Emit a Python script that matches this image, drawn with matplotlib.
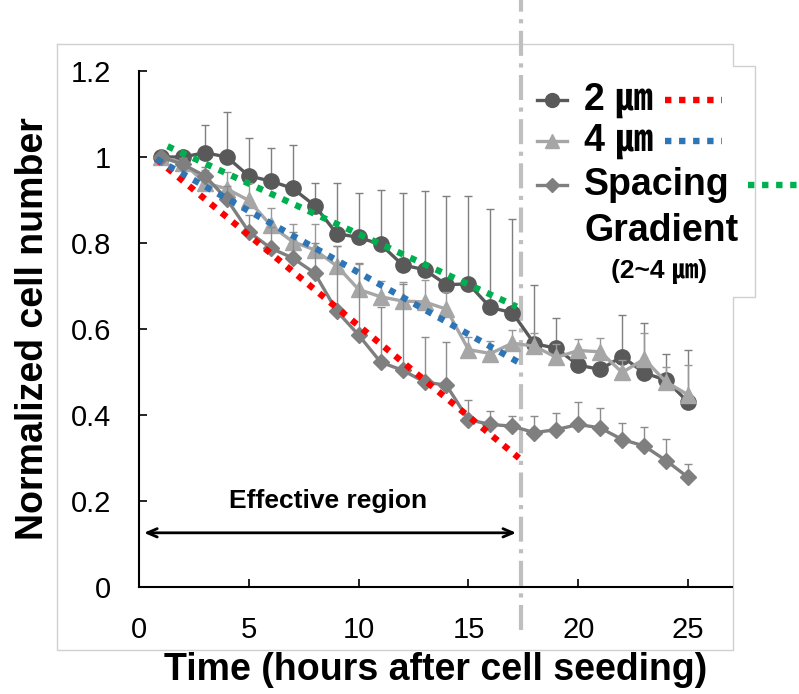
import numpy as np
import matplotlib
matplotlib.use('Agg')
import matplotlib.pyplot as plt
from matplotlib.lines import Line2D

plt.rcParams['font.family'] = ['Liberation Sans', 'Noto Sans CJK KR', 'DejaVu Sans']

# ---- data ----
hours = list(range(1, 26))

mean_2um = [1.0, 1.0, 1.01, 1.0, 0.956, 0.944, 0.927, 0.887, 0.822, 0.813, 0.797, 0.749, 0.738,
            0.703, 0.705, 0.65, 0.638, 0.566, 0.555, 0.516, 0.506, 0.536, 0.498, 0.481, 0.43]
err_2um = [0.0, 0.01, 0.065, 0.105, 0.089, 0.077, 0.102, 0.052, 0.117, 0.103, 0.127, 0.167, 0.182,
           0.206, 0.204, 0.23, 0.217, 0.136, 0.07, 0.015, 0.015, 0.097, 0.117, 0.06, 0.122]

mean_4um = [1.0, 0.987, 0.94, 0.926, 0.899, 0.841, 0.803, 0.784, 0.747, 0.692, 0.675, 0.665, 0.663,
            0.646, 0.552, 0.543, 0.567, 0.56, 0.534, 0.55, 0.547, 0.499, 0.53, 0.477, 0.447]
err_4um = [0.0, 0.01, 0.03, 0.04, 0.04, 0.04, 0.042, 0.061, 0.045, 0.059, 0.036, 0.045, 0.052,
           0.04, 0.03, 0.03, 0.03, 0.03, 0.03, 0.027, 0.031, 0.03, 0.06, 0.035, 0.07]

mean_grad = [1.0, 0.983, 0.956, 0.902, 0.826, 0.788, 0.765, 0.73, 0.642, 0.586, 0.523, 0.504, 0.477,
             0.469, 0.389, 0.378, 0.374, 0.359, 0.366, 0.378, 0.37, 0.343, 0.328, 0.294, 0.255]
err_grad = [0.0, 0.01, 0.02, 0.03, 0.04, 0.05, 0.06, 0.07, 0.15, 0.168, 0.127, 0.2, 0.105,
            0.1, 0.046, 0.032, 0.024, 0.038, 0.039, 0.053, 0.047, 0.039, 0.044, 0.051, 0.031]

# linear fits over the effective region (end points)
fit_x_2um = [0.8, 17.3]
fit_y_2um = [0.995, 0.30]
fit_x_4um = [0.8, 17.3]
fit_y_4um = [0.995, 0.522]
fit_x_grad = [1.3, 17.2]
fit_y_grad = [1.025, 0.652]

cutoff_hour = 17.4

W, H = 799, 694
fig = plt.figure(figsize=(W / 100, H / 100), dpi=100)


def fx(px):
    return px / W


def fy(py):
    return 1 - py / H


ax = fig.add_axes([fx(139), fy(587), (732 - 139) / W, (587 - 71) / H])

c_dark, c_light, c_mid = '#595959', '#A6A6A6', '#7F7F7F'
zeros = [0] * len(hours)

ax.errorbar(hours, mean_2um, yerr=[zeros, err_2um], color=c_dark, marker='o', ms=11, lw=2.4,
            ecolor='#7F7F7F', elinewidth=1, capsize=3, capthick=1, zorder=3)
ax.errorbar(hours, mean_4um, yerr=[zeros, err_4um], color=c_light, marker='^', ms=12, lw=2.4,
            ecolor='#999999', elinewidth=1, capsize=3, capthick=1, zorder=4)
ax.errorbar(hours, mean_grad, yerr=[zeros, err_grad], color=c_mid, marker='D', ms=8, lw=2.4,
            ecolor='#8C8C8C', elinewidth=1, capsize=3, capthick=1, zorder=5)

dot = dict(lw=4.6, linestyle=(0, (1, 1.2)), dash_capstyle='butt', zorder=6)
ax.plot(fit_x_2um, fit_y_2um, color='#FF0000', **dot)
ax.plot(fit_x_4um, fit_y_4um, color='#2E75B6', **dot)
ax.plot(fit_x_grad, fit_y_grad, color='#00B050', **dot)

ax.plot([cutoff_hour, cutoff_hour], [-0.1, 1.37], color='#BFBFBF', lw=3,
        linestyle=(0, (6, 1.8, 1, 1.8)), clip_on=False, zorder=2)

ax.annotate('', xy=(0.1, 0.126), xytext=(cutoff_hour - 0.1, 0.126),
            arrowprops=dict(arrowstyle='<->,head_length=0.7,head_width=0.3', lw=2, color='black'))
ax.text(8.6, 0.2, 'Effective region', ha='center', va='center', fontsize=19,
        fontweight='bold')

ax.set_xlim(0, 27)
ax.set_ylim(0, 1.2)
ax.set_xticks([0, 5, 10, 15, 20, 25])
ax.set_yticks([0, 0.2, 0.4, 0.6, 0.8, 1.0, 1.2])
ax.set_yticklabels(['0', '0.2', '0.4', '0.6', '0.8', '1', '1.2'])
for s in ['top', 'right']:
    ax.spines[s].set_visible(False)
for s in ['left', 'bottom']:
    ax.spines[s].set_linewidth(1.5)
ax.tick_params(direction='in', length=6, width=1.2, labelsize=21)
ax.tick_params(axis='y', pad=20)
ax.tick_params(axis='x', pad=21)

ax.set_xlabel('Time (hours after cell seeding)', fontsize=27, fontweight='bold', labelpad=6)
ax.set_ylabel('Normalized cell number', fontsize=27, fontweight='bold', labelpad=14)

# outer frame and legend box outline
frame_x = [57, 733, 733, 755, 755, 733, 733, 57, 57]
frame_y = [44, 44, 66, 66, 297, 297, 650, 650, 44]
fig.add_artist(Line2D([fx(v) for v in frame_x], [fy(v) for v in frame_y],
                      color='#D0D0D0', lw=1, transform=fig.transFigure, zorder=0))

# legend (drawn by hand: marker sample, label, fit sample)
rows = [(100, c_dark, 'o', 10, '2 ㎛', '#FF0000', 665, 722),
        (141, c_light, '^', 10, '4 ㎛', '#2E75B6', 665, 722),
        (185, c_mid, 'D', 7, 'Spacing', '#00B050', 748, 800)]
for py, col, mk, ms, label, fcol, x0, x1 in rows:
    fig.add_artist(Line2D([fx(537), fx(567)], [fy(py), fy(py)], color=col, lw=2.4,
                          transform=fig.transFigure))
    fig.add_artist(Line2D([fx(552)], [fy(py)], color=col, marker=mk, ms=ms,
                          transform=fig.transFigure))
    fig.text(fx(584), fy(py), label, fontsize=27, fontweight='bold', va='center', ha='left')
    fig.add_artist(Line2D([fx(x0), fx(x1)], [fy(py), fy(py)], color=fcol, lw=4.6,
                          linestyle=(0, (1, 1.2)), transform=fig.transFigure))
fig.text(fx(584), fy(231), 'Gradient', fontsize=27, fontweight='bold', va='center', ha='left')
fig.text(fx(611), fy(271), '(2~4 ㎛)', fontsize=19, fontweight='bold', va='center', ha='left')

fig.savefig('out.png', dpi=100)
